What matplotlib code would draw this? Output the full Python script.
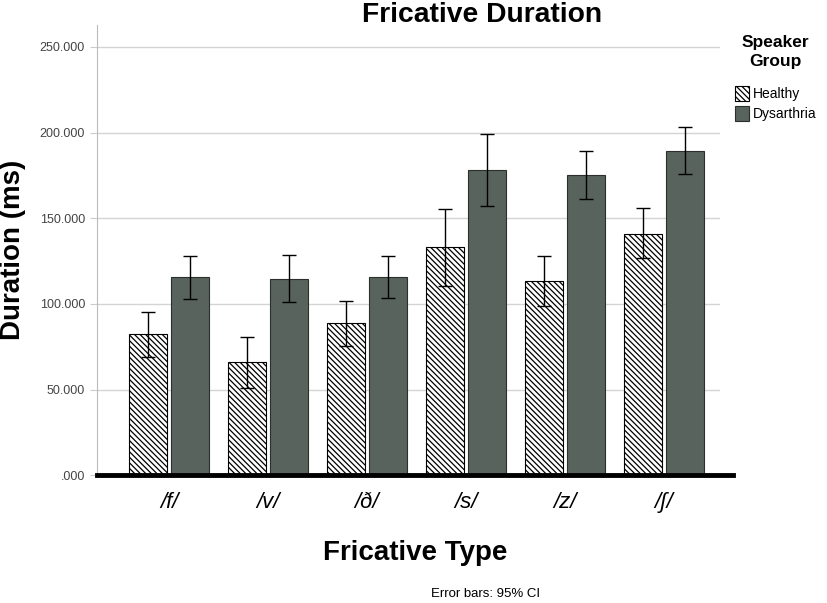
import numpy as np
import matplotlib
matplotlib.use("Agg")
import matplotlib.pyplot as plt
from matplotlib.patches import Patch
from matplotlib.lines import Line2D

plt.rcParams['font.family'] = ['Liberation Sans', 'DejaVu Sans']
plt.rcParams['hatch.linewidth'] = 0.9

# data
fricatives = ['/f/', '/v/', '/ð/', '/s/', '/z/', '/ʃ/']
healthy = [82.4, 66.0, 88.8, 133.0, 113.3, 141.0]
healthy_lo = [69.0, 50.8, 75.4, 110.4, 98.7, 126.7]
healthy_hi = [95.2, 80.6, 101.6, 155.4, 128.0, 156.0]
dysarthria = [115.6, 114.5, 115.6, 178.0, 175.0, 189.0]
dysarthria_lo = [102.8, 101.0, 103.4, 157.0, 161.0, 176.0]
dysarthria_hi = [128.0, 128.5, 128.0, 199.0, 189.0, 203.0]

dys_color = '#58635d'
hatch = '\\' * 6
x = np.arange(len(fricatives))
w = 0.385
off = 0.21

fig = plt.figure(figsize=(8.27, 6.03), dpi=100)
ax = fig.add_axes([0.117, 0.212, 0.754, 0.747])

h_err = [np.array(healthy) - np.array(healthy_lo), np.array(healthy_hi) - np.array(healthy)]
d_err = [np.array(dysarthria) - np.array(dysarthria_lo), np.array(dysarthria_hi) - np.array(dysarthria)]

ax.bar(x - off, healthy, w, color='white', edgecolor='black', hatch=hatch,
       linewidth=0.8, zorder=2)
ax.bar(x + off, dysarthria, w, color=dys_color, edgecolor='#2b302d',
       linewidth=0.8, zorder=2)
ax.errorbar(x - off, healthy, yerr=h_err, fmt='none', ecolor='black',
            elinewidth=1, capsize=5, capthick=1, zorder=3)
ax.errorbar(x + off, dysarthria, yerr=d_err, fmt='none', ecolor='black',
            elinewidth=1, capsize=5, capthick=1, zorder=3)

ax.set_xlim(-0.73, 5.57)
ax.set_ylim(0, 263)
ax.set_yticks([0, 50, 100, 150, 200, 250])
ax.set_yticklabels(['.000', '50.000', '100.000', '150.000', '200.000', '250.000'],
                   color='#444444', fontsize=9)
ax.yaxis.grid(True, color='#d4d4d4', linewidth=1)
ax.set_axisbelow(True)
ax.tick_params(axis='y', length=5, color='#cccccc')
ax.tick_params(axis='x', length=0, pad=12)
ax.set_xticks(x)
ax.set_xticklabels(fricatives, fontsize=16, style='italic')

for s in ['top', 'right', 'bottom']:
    ax.spines[s].set_visible(False)
ax.spines['left'].set_color('#bbbbbb')
# thick baseline running a little past the plot area
ax.add_line(Line2D([0, 1.02], [0, 0], transform=ax.transAxes, color='black',
                   linewidth=3.5, clip_on=False, zorder=4))

ax.set_ylabel('Duration (ms)', fontsize=20, fontweight='bold', labelpad=10)
ax.set_xlabel('Fricative Type', fontsize=20, fontweight='bold')
ax.xaxis.set_label_coords(0.51, -0.145)
fig.text(0.583, 0.997, 'Fricative Duration', ha='center', va='top',
         fontsize=20.3, fontweight='bold')
fig.text(0.587, 0.005, 'Error bars: 95% CI', ha='center', va='bottom', fontsize=9.5)

handles = [Patch(facecolor='white', edgecolor='black', hatch=hatch, linewidth=0.8),
           Patch(facecolor=dys_color, edgecolor='#2b302d', linewidth=0.8)]
leg = fig.legend(handles, ['Healthy', 'Dysarthria'], title='Speaker\nGroup',
                 loc='upper left', bbox_to_anchor=(0.877, 0.958), frameon=False,
                 fontsize=10, handlelength=1.0, handleheight=1.3,
                 handletextpad=0.3, labelspacing=0.35, borderpad=0.2)
plt.setp(leg.get_title(), fontsize=12.5, fontweight='bold', multialignment='center',
         linespacing=1.35)
leg._legend_box.sep = 12

fig.savefig('out.png', dpi=100)
